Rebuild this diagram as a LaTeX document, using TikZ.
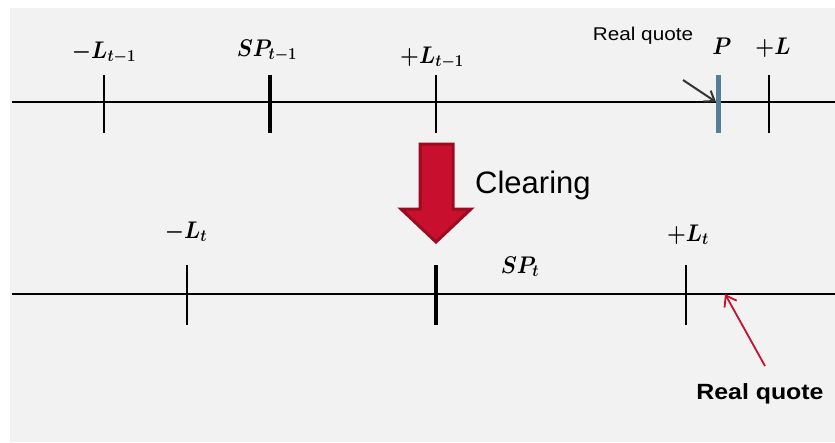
\documentclass[tikz,border=0pt]{standalone}
\usepackage{fontspec}
\setsansfont{Liberation Sans}
\usepackage{amsmath,bm}
\usetikzlibrary{arrows.meta}
\definecolor{bgc}{HTML}{F2F2F2}
\definecolor{quoteblue}{HTML}{557E96}
\definecolor{clearred}{HTML}{C8102E}
\definecolor{clearedge}{HTML}{9B0B22}
\definecolor{darkarrow}{HTML}{333333}
\newcommand{\mlabel}[1]{\scalebox{1.04}[1.16]{$\boldsymbol{#1}$}}
\tikzset{
  axis/.style={line width=2pt, black},
  thintick/.style={line width=1.3pt, black},
  thicktick/.style={line width=4.5pt, black},
  bluetick/.style={line width=5pt, quoteblue},
  mlab/.style={inner sep=0pt, anchor=base, font=\fontsize{21}{25}\selectfont},
  qlab/.style={inner sep=0pt, font=\sffamily\fontsize{18.5}{22}\selectfont},
  qarrow/.style={line width=2pt, darkarrow, -{Straight Barb[length=9pt,width=13pt,line width=2pt]}},
  rarrow/.style={line width=1.8pt, clearred, -{Straight Barb[length=10pt,width=14pt,line width=1.8pt]}},
  blockarrow/.style={fill=clearred, draw=clearedge, line width=3pt, line join=miter}
}
\begin{document}
\begin{tikzpicture}[x=1pt,y=-1pt]
\useasboundingbox (0,0) rectangle (835,442);
\fill[bgc] (10,8) rectangle (835,442);

% top axis
\coordinate (a1) at (12,102);
\coordinate (b1) at (835,102);
\draw[axis] (a1) -- (b1);
\draw[thintick] (104,75) -- (104,133);
\draw[thicktick] (270,75) -- (270,133);
\draw[thintick] (436,75) -- (436,133);
\coordinate (ptick) at (716,102);
\draw[bluetick] (718,75) -- (718,133);
\draw[thintick] (769,75) -- (769,133);

\node[mlab] (lm1) at (104,58) {\mlabel{-L_{t-1}}};
\node[mlab] (sp1) at (267,56) {\mlabel{SP_{t-1}}};
\node[mlab] (lp1) at (432,63) {\mlabel{+L_{t-1}}};
\node[mlab] (pl) at (722,54) {\mlabel{P}};
\node[mlab] (lp) at (773,54) {\mlabel{+L}};
\node[qlab] (rq1) at (643,36) {\scalebox{1.12}[1]{Real quote}};
\coordinate (rq1s) at (683,80);
\draw[qarrow] (rq1s) -- (ptick);

% clearing arrow
\draw[blockarrow] (420,144) -- (453,144) -- (453,209) -- (471,209) -- (436,242) -- (401,209) -- (420,209) -- cycle;
\node[inner sep=0pt, anchor=base west, font=\sffamily\fontsize{31}{36}\selectfont] (clr) at (475,193) {Clearing};

% bottom axis
\coordinate (a2) at (12,294);
\coordinate (b2) at (835,294);
\draw[axis] (a2) -- (b2);
\draw[thintick] (187,265) -- (187,325);
\draw[thicktick] (436,265) -- (436,325);
\draw[thintick] (686,265) -- (686,325);

\node[mlab] (lm2) at (186,238) {\mlabel{-L_{t}}};
\node[mlab] (sp2) at (520,273) {\mlabel{SP_{t}}};
\node[mlab] (lp2) at (688,241) {\mlabel{+L_{t}}};

\node[qlab, font=\sffamily\bfseries\fontsize{22}{26}\selectfont] (rq2) at (760,394) {\scalebox{1.13}[1]{Real quote}};
\coordinate (rq2s) at (765,366);
\coordinate (rq2e) at (725,294);
\draw[rarrow] (rq2s) -- (rq2e);
\end{tikzpicture}
\end{document}
